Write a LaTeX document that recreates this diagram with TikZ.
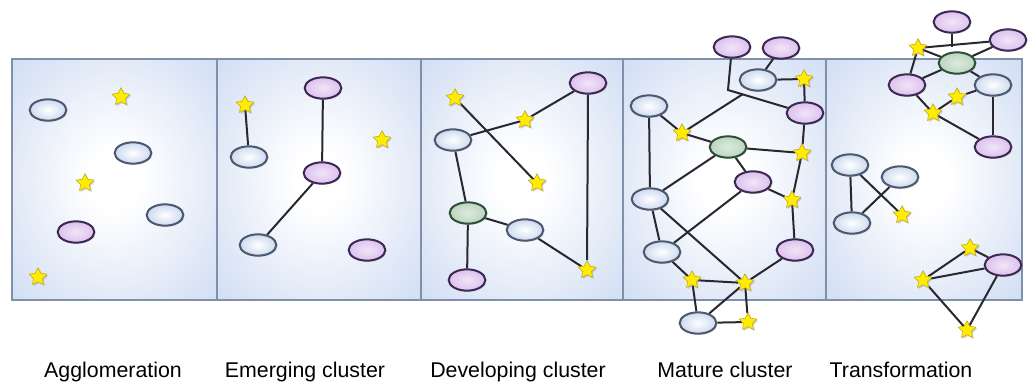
\documentclass[tikz,border=0pt]{standalone}
\usepackage{fontspec}
\newfontfamily\labfont{Liberation Sans}
\usetikzlibrary{shapes.geometric,shadows}
\definecolor{panelblue}{RGB}{196,212,240}
\definecolor{panelline}{RGB}{128,144,170}
\definecolor{blfill}{RGB}{204,218,240}
\definecolor{blline}{RGB}{78,88,110}
\definecolor{pufill}{RGB}{220,192,238}
\definecolor{puline}{RGB}{60,42,82}
\definecolor{grfill}{RGB}{186,214,190}
\definecolor{grline}{RGB}{48,78,60}
\definecolor{starfill}{RGB}{255,236,0}
\definecolor{starline}{RGB}{196,168,20}
\definecolor{edgecol}{RGB}{40,40,46}
\pgfdeclareradialshading{panelshade}{\pgfpoint{0bp}{0bp}}{color(0bp)=(white); color(6bp)=(white); color(44bp)=(panelblue); color(50bp)=(panelblue)}
\pgfdeclarelayer{bg}
\pgfdeclarelayer{edges}
\pgfsetlayers{bg,edges,main}
\tikzset{
  oval/.style={ellipse, minimum width=27.5pt, minimum height=16pt, inner sep=0pt, line width=1.5pt,
    drop shadow={shadow xshift=0.9pt, shadow yshift=-0.9pt, opacity=0.25}},
  bl/.style={oval, draw=blline, inner color=white, outer color=blfill},
  pu/.style={oval, draw=puline, inner color=white!60!pufill, outer color=pufill},
  gr/.style={oval, draw=grline, inner color=white!50!grfill, outer color=grfill},
  st/.style={star, star points=5, star point ratio=2.0, minimum size=14pt, inner sep=0pt,
    fill=starfill, draw=starline, line width=0.4pt,
    drop shadow={shadow xshift=1pt, shadow yshift=-1pt, opacity=0.35}},
  con/.style={draw=edgecol, line width=1.5pt},
  lab/.style={font=\labfont\fontsize{16}{19}\selectfont, text=black, anchor=base},
  panel/.style={shading=panelshade}
}
\begin{document}
\begin{tikzpicture}[x=0.75pt,y=-0.75pt]
\useasboundingbox (0,0) rectangle (1028,382);
\begin{pgfonlayer}{bg}
\fill[white] (0,0) rectangle (1028,382);
\shade[panel] (12,59) rectangle (217,300);
\shade[panel] (217,59) rectangle (421,300);
\shade[panel] (421,59) rectangle (623,300);
\shade[panel] (623,59) rectangle (826,300);
\shade[panel] (826,59) rectangle (1022,300);
\draw[panelline, line width=1.4pt] (12,59) rectangle (1022,300);
\foreach \xx in {217,421,623,826} \draw[panelline, line width=1.4pt] (\xx,59) -- (\xx,300);
\end{pgfonlayer}

% Panel 1
\node[bl] (a1) at (48,110) {};
\node[st] (a2) at (121,97) {};
\node[bl] (a3) at (133,153) {};
\node[st] (a4) at (85,183) {};
\node[bl] (a5) at (165,215) {};
\node[pu] (a6) at (76,232) {};
\node[st] (a7) at (38,277) {};

% Panel 2
\node[st] (b1) at (245,105) {};
\node[bl] (b2) at (249,157) {};
\node[pu] (b3) at (323,88) {};
\node[pu] (b4) at (322,173) {};
\node[st] (b5) at (382,140) {};
\node[bl] (b6) at (258,245) {};
\node[pu] (b7) at (367,250) {};

% Panel 3
\node[pu] (c1) at (588,83) {};
\node[st] (c2) at (455,98) {};
\node[st] (c3) at (525,120) {};
\node[bl] (c4) at (453,140) {};
\node[st] (c5) at (537,183) {};
\node[gr] (c6) at (468,213) {};
\node[bl] (c7) at (525,230) {};
\node[pu] (c8) at (467,280) {};
\node[st] (c9) at (587,270) {};

% Panel 4
\node[pu] (d1) at (732,47) {};
\node[pu] (d2) at (781,48) {};
\node[bl] (d3) at (758,80) {};
\node[st] (d4) at (804,79) {};
\node[bl] (d5) at (649,106) {};
\node[pu] (d6) at (805,113) {};
\node[st] (d7) at (682,133) {};
\node[gr] (d8) at (728,147) {};
\node[st] (d9) at (802,153) {};
\node[pu] (d10) at (753,182) {};
\node[st] (d11) at (792,200) {};
\node[bl] (d12) at (650,199) {};
\node[bl] (d13) at (662,252) {};
\node[pu] (d14) at (795,250) {};
\node[st] (d15) at (692,280) {};
\node[st] (d16) at (745,283) {};
\node[bl] (d17) at (698,323) {};
\node[st] (d18) at (748,322) {};
\coordinate (j1) at (728,90);
\coordinate (j2) at (743,94);

% Panel 5
\node[pu] (e1) at (952,22) {};
\node[pu] (e2) at (1008,40) {};
\node[st] (e3) at (918,48) {};
\node[gr] (e4) at (957,63) {};
\node[pu] (e5) at (907,85) {};
\node[bl] (e6) at (993,85) {};
\node[st] (e7) at (957,97) {};
\node[st] (e8) at (933,113) {};
\node[pu] (e9) at (993,147) {};
\node[bl] (e10) at (850,165) {};
\node[bl] (e11) at (900,177) {};
\node[bl] (e12) at (852,223) {};
\node[st] (e13) at (902,215) {};
\node[st] (e14) at (970,248) {};
\node[pu] (e15) at (1003,265) {};
\node[st] (e16) at (923,280) {};
\node[st] (e17) at (967,330) {};
\coordinate (k1) at (952,47);

\begin{pgfonlayer}{edges}
\draw[con] (b1) -- (b2);
\draw[con] (b3) -- (b4);
\draw[con] (b4) -- (b6);

\draw[con] (c1) -- (c3);
\draw[con] (c3) -- (c4);
\draw[con] (c2) -- (c5);
\draw[con] (c4) -- (c6);
\draw[con] (c6) -- (c8);
\draw[con] (c6) -- (c7);
\draw[con] (c7) -- (c9);
\draw[con] (c1.south) -- (c9);

\draw[con] (d1) -- (j1) -- (d6);
\draw[con] (d7) -- (j2);
\draw[con] (d2) -- (d3);
\draw[con] (d3) -- (d4);
\draw[con] (d4) -- (d6);
\draw[con] (d5) -- (d7);
\draw[con] (d7) -- (d8);
\draw[con] (d8) -- (d9);
\draw[con] (d6) -- (d9);
\draw[con] (d8) -- (d10);
\draw[con] (d10) -- (d11);
\draw[con] (d9) -- (d11);
\draw[con] (d8) -- (d12);
\draw[con] (d5) -- (d12);
\draw[con] (d12) -- (d13);
\draw[con] (d12) -- (d16);
\draw[con] (d10) -- (d13);
\draw[con] (d11) -- (d14);
\draw[con] (d14) -- (d16);
\draw[con] (d13) -- (d15);
\draw[con] (d15) -- (d16);
\draw[con] (d15) -- (d17);
\draw[con] (d17) -- (d16);
\draw[con] (d16) -- (d18);
\draw[con] (d17) -- (d18);

\draw[con] (e1) -- (k1);
\draw[con] (e3) -- (e2);
\draw[con] (e3) -- (e4);
\draw[con] (e2) -- (e4);
\draw[con] (e3) -- (e5);
\draw[con] (e5) -- (e4);
\draw[con] (e4) -- (e6);
\draw[con] (e7) -- (e6);
\draw[con] (e8) -- (e7);
\draw[con] (e5) -- (e8);
\draw[con] (e8) -- (e9);
\draw[con] (e6) -- (e9);
\draw[con] (e10) -- (e12);
\draw[con] (e10) -- (e13);
\draw[con] (e12) -- (e11);
\draw[con] (e14) -- (e15);
\draw[con] (e16) -- (e14);
\draw[con] (e16) -- (e15);
\draw[con] (e16) -- (e17);
\draw[con] (e15) -- (e17);
\end{pgfonlayer}

\node[lab] (l1) at (113,377) {Agglomeration};
\node[lab] (l2) at (305,377) {Emerging cluster};
\node[lab] (l3) at (518,377) {Developing cluster};
\node[lab] (l4) at (725,377) {Mature cluster};
\node[lab] (l5) at (901,377) {Transformation};
\end{tikzpicture}
\end{document}
